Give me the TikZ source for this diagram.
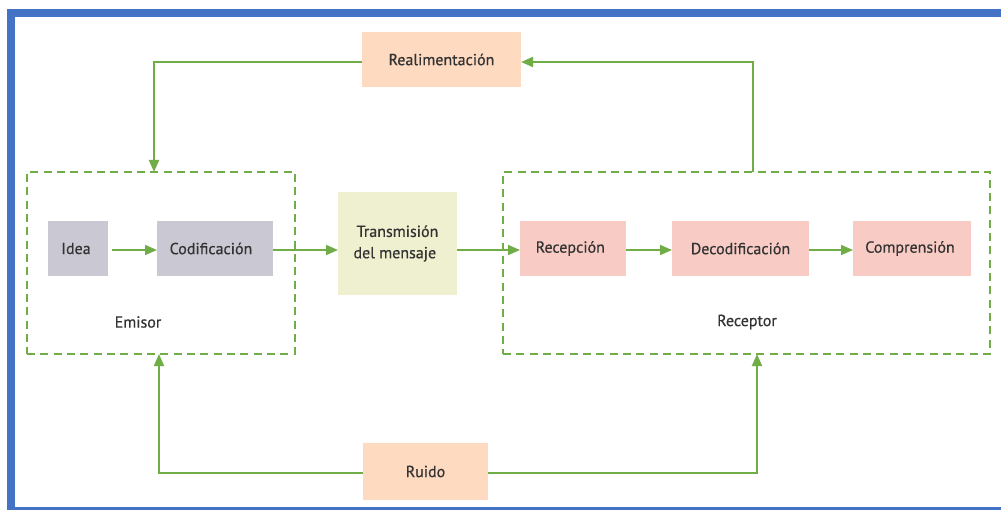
\documentclass[tikz,border=0pt]{standalone}
\usepackage{fontspec}
\setmainfont{PT Sans}[UprightFeatures={FakeBold=0.6}]
\usetikzlibrary{arrows.meta}

\definecolor{frameblue}{HTML}{4472C4}
\definecolor{flowgreen}{HTML}{70AD47}
\definecolor{peach}{HTML}{FDDAC0}
\definecolor{lilac}{HTML}{CAC9D3}
\definecolor{cream}{HTML}{EEF0CF}
\definecolor{rose}{HTML}{F8CCC5}
\definecolor{ink}{HTML}{333333}

\tikzset{
  box/.style 2 args={inner sep=0pt, outer sep=0pt, text=ink, align=center,
              font=\fontsize{12}{16}\selectfont,
              minimum width={#1*0.75pt}, minimum height={#2*0.75pt}},
  lbl/.style={inner sep=0pt, text=ink, font=\fontsize{12}{14}\selectfont},
  grp/.style 2 args={draw=flowgreen, line width=1.5pt,
              dash pattern=on 6pt off 4pt, inner sep=0pt, outer sep=0pt,
              minimum width={#1*0.75pt}, minimum height={#2*0.75pt}},
  arr/.style={draw=flowgreen, line width=1.4pt,
              -{Triangle[length=9pt,width=7.5pt]}},
}

\begin{document}
\begin{tikzpicture}[x=0.75pt,y=-0.75pt]
  \useasboundingbox (0,0) rectangle (1001,510);
  \fill[white] (0,0) rectangle (1001,510);

  % outer frame
  \fill[frameblue] (7,9) rectangle (1001,17);
  \fill[frameblue] (7,9) rectangle (15,510);
  \fill[frameblue] (7,507) rectangle (1001,510);

  % dashed groups
  \node[grp={268}{182}] (emisor) at (161,263) {};
  \node[grp={487}{182}] (receptor) at (746.5,263) {};
  \node[lbl] (emisorlbl) at (138,322) {Emisor};
  \node[lbl] (receptorlbl) at (747,322) {Receptor};

  % blocks
  \node[box={159}{55}, fill=peach] (realim) at (441.5,59.5) {Realimentación};
  \node[box={60}{55}, fill=lilac] (idea) at (78,248.5) {Idea\kern3pt};
  \node[box={116}{55}, fill=lilac] (codif) at (215,248.5) {Codificación\kern6pt};
  \node[box={119}{103}, fill=cream] (trans) at (397.5,243.5) {Transmisión\\del mensaje\kern4pt};
  \node[box={106}{55}, fill=rose] (recep) at (573,248.5) {\raisebox{2pt}{Recepción}\kern4pt};
  \node[box={137}{55}, fill=rose] (decod) at (740.5,248.5) {Decodificación};
  \node[box={118}{55}, fill=rose] (compr) at (912,248.5) {\raisebox{-2pt}{Comprensión}\kern3pt};
  \node[box={125}{57}, fill=peach] (ruido) at (425.5,471.5) {Ruido};

  % reference lines for the connectors
  \coordinate (row) at (0,250);
  \coordinate (fbrow) at (0,62);
  \coordinate (nzrow) at (0,473);
  \coordinate (fbL) at (154,172);
  \coordinate (fbR) at (753,172);
  \coordinate (nzL) at (159,354);
  \coordinate (nzR) at (757,354);

  % main flow
  \draw[arr, shorten <=3pt] (idea.east |- row) -- (codif.west |- row);
  \draw[arr] (codif.east |- row) -- (trans.west |- row);
  \draw[arr] (trans.east |- row) -- (recep.west |- row);
  \draw[arr] (recep.east |- row) -- (decod.west |- row);
  \draw[arr] (decod.east |- row) -- (compr.west |- row);

  % feedback
  \draw[arr] (fbR) |- (realim.east |- fbrow);
  \draw[arr] (realim.west |- fbrow) -| (fbL);

  % noise
  \draw[arr] (ruido.west |- nzrow) -| (nzL);
  \draw[arr] (ruido.east |- nzrow) -| (nzR);
\end{tikzpicture}
\end{document}
